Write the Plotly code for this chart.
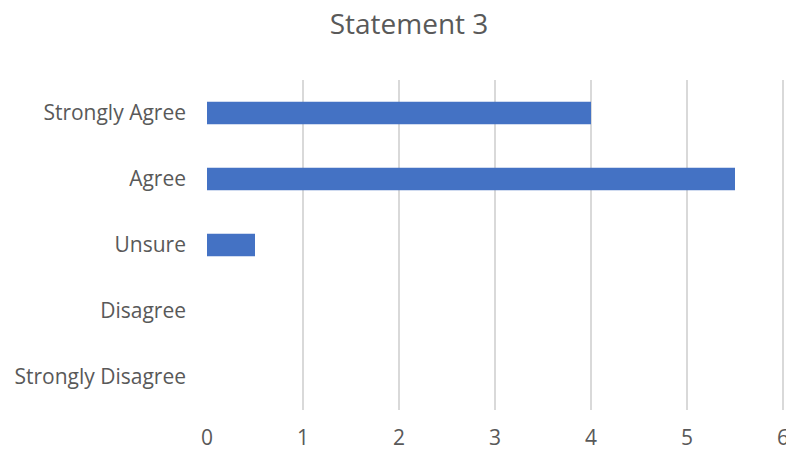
import plotly.graph_objects as go

categories = ["Strongly Disagree", "Disagree", "Unsure", "Agree", "Strongly Agree"]
values = [0, 0, 0.5, 5.5, 4]
x_ticks = [0, 1, 2, 3, 4, 5, 6]

font_family = "'Open Sans', Lato, sans-serif"
text_color = "#595959"

fig = go.Figure(go.Bar(
    y=categories, x=values, orientation="h",
    marker=dict(color="#4472C4", line=dict(width=0)),
))

fig.update_layout(
    width=786, height=453,
    margin=dict(l=207, r=0, t=80, b=43),
    paper_bgcolor="white", plot_bgcolor="white",
    bargap=0.66,
    showlegend=False,
    title=dict(text="Statement 3", x=409/786, xref="container", xanchor="center",
               y=1 - 24/453, yref="container", yanchor="middle",
               font=dict(family=font_family, size=28, color=text_color)),
    font=dict(family=font_family, size=21, color=text_color),
)
fig.update_xaxes(range=[0, 6 * 579 / 576], tickvals=x_ticks, showgrid=True, gridcolor="#D9D9D9",
                 gridwidth=1.5, zeroline=False, showline=False, automargin=False,
                 ticklabeloverflow="allow", ticklabelstandoff=13,
                 tickfont=dict(size=21, color=text_color))
fig.update_yaxes(categoryorder="array", categoryarray=categories, showgrid=False,
                 zeroline=False, showline=False, automargin=False,
                 ticklabelstandoff=20, tickfont=dict(size=21, color=text_color))

fig.write_html("out.html")
